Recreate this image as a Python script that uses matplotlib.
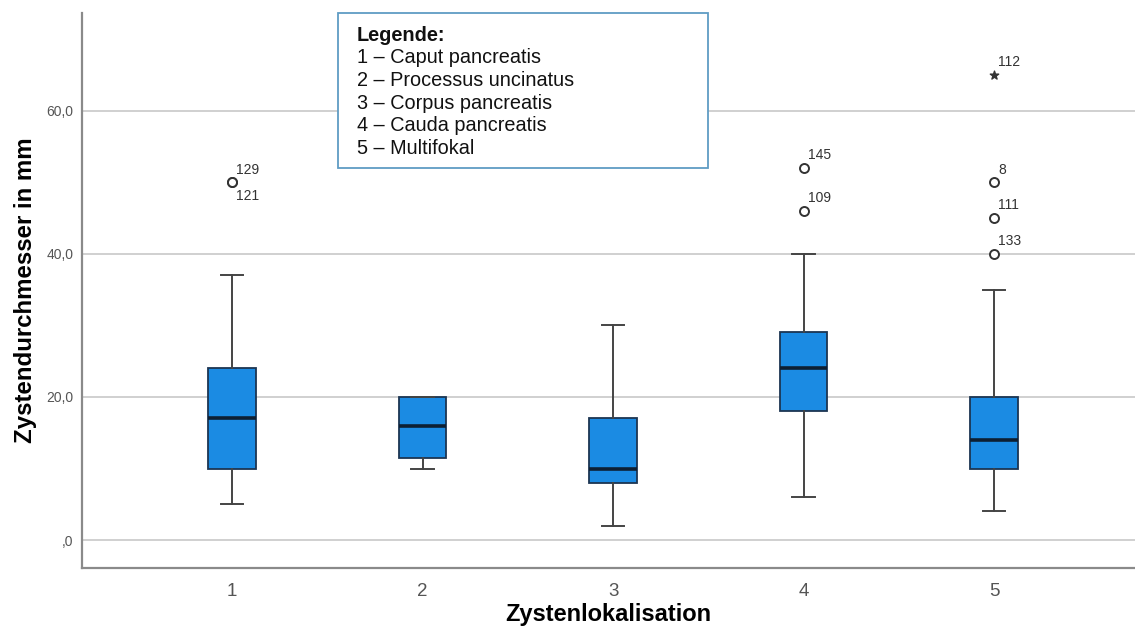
import matplotlib.pyplot as plt

# box statistics per location
locations = [1, 2, 3, 4, 5]
q1 = [10, 11.5, 8, 18, 10]
medians = [17, 16, 10, 24, 14]
q3 = [24, 20, 17, 29, 20]
whisk_lo = [5, 10, 2, 6, 4]
whisk_hi = [37, 20, 30, 40, 35]

# outliers: location, value, case label, label below marker?
out_pos = [1, 1, 4, 4, 5, 5, 5]
out_val = [50, 50, 52, 46, 50, 45, 40]
out_lab = ["129", "121", "145", "109", "8", "111", "133"]
out_below = [False, True, False, False, False, False, False]

# extreme values (star)
ext_pos = [5]
ext_val = [65]
ext_lab = ["112"]

y_ticks = [0, 20, 40, 60]
y_ticklabels = [",0", "20,0", "40,0", "60,0"]

legend_title = "Legende:"
legend_lines = ["1 – Caput pancreatis", "2 – Processus uncinatus",
                "3 – Corpus pancreatis", "4 – Cauda pancreatis",
                "5 – Multifokal"]

plt.rcParams['font.family'] = ['Liberation Sans', 'DejaVu Sans']

fig = plt.figure(figsize=(11.35, 6.28), dpi=100)
ax = fig.add_axes([0.0722, 0.0955, 0.9278, 0.8835])

stats = []
for i in range(len(locations)):
    stats.append({'med': medians[i], 'q1': q1[i], 'q3': q3[i],
                  'whislo': whisk_lo[i], 'whishi': whisk_hi[i], 'fliers': []})

ax.bxp(stats, positions=locations, widths=0.25, patch_artist=True,
       showfliers=False,
       boxprops=dict(facecolor='#1b8be3', edgecolor='#1c3552', linewidth=1.3),
       medianprops=dict(color='#0d1f33', linewidth=2.6),
       whiskerprops=dict(color='#444444', linewidth=1.4),
       capprops=dict(color='#444444', linewidth=1.4),
       capwidths=0.12, zorder=3)

ax.scatter(out_pos, out_val, s=42, marker='o', facecolors='white',
           edgecolors='#333333', linewidths=1.4, zorder=4)
ax.scatter(ext_pos, ext_val, s=40, marker='*', color='#333333', zorder=4)

for x, y, lab, below in zip(out_pos, out_val, out_lab, out_below):
    if below:
        ax.annotate(lab, (x, y), xytext=(3, -5), textcoords='offset points',
                    fontsize=10, color='#333333', va='top', ha='left')
    else:
        ax.annotate(lab, (x, y), xytext=(3, 4), textcoords='offset points',
                    fontsize=10, color='#333333', va='bottom', ha='left')
for x, y, lab in zip(ext_pos, ext_val, ext_lab):
    ax.annotate(lab, (x, y), xytext=(3, 4), textcoords='offset points',
                fontsize=10, color='#333333', va='bottom', ha='left')

ax.set_xlim(0.212, 5.74)
ax.set_ylim(-3.9, 73.6)
ax.set_xticks(locations)
ax.set_xticklabels([str(l) for l in locations])
ax.set_yticks(y_ticks)
ax.set_yticklabels(y_ticklabels)
ax.tick_params(axis='y', length=0, pad=6, labelsize=10, labelcolor='#555555')
ax.tick_params(axis='x', length=0, pad=11, labelsize=13.5, labelcolor='#555555')

ax.grid(axis='y', color='#c4c4c4', linewidth=1.1, zorder=0)
ax.set_axisbelow(True)
for side in ['top', 'right']:
    ax.spines[side].set_visible(False)
for side in ['left', 'bottom']:
    ax.spines[side].set_color('#8a8a8a')
    ax.spines[side].set_linewidth(1.6)

ax.set_xlabel("Zystenlokalisation", fontsize=17, fontweight='bold', labelpad=2)
ax.set_ylabel("Zystendurchmesser in mm", fontsize=17.3, fontweight='bold', labelpad=7)

# legend text box, drawn above the axes so it hides the gridline
box = plt.Rectangle((338 / 1135, 1 - 168 / 628), 370 / 1135, 155 / 628,
                    transform=fig.transFigure, facecolor='white',
                    edgecolor='#5f9cc4', linewidth=1.3, zorder=5)
fig.add_artist(box)
fig.text(0.3145, 0.944, legend_title, fontsize=14.3, fontweight='bold',
         va='center', ha='left', color='#111111', zorder=6)
for k, line in enumerate(legend_lines):
    fig.text(0.3145, 0.944 - (k + 1) * 0.0361, line, fontsize=14.3,
             va='center', ha='left', color='#111111', zorder=6)

fig.savefig("out.png", dpi=100)
